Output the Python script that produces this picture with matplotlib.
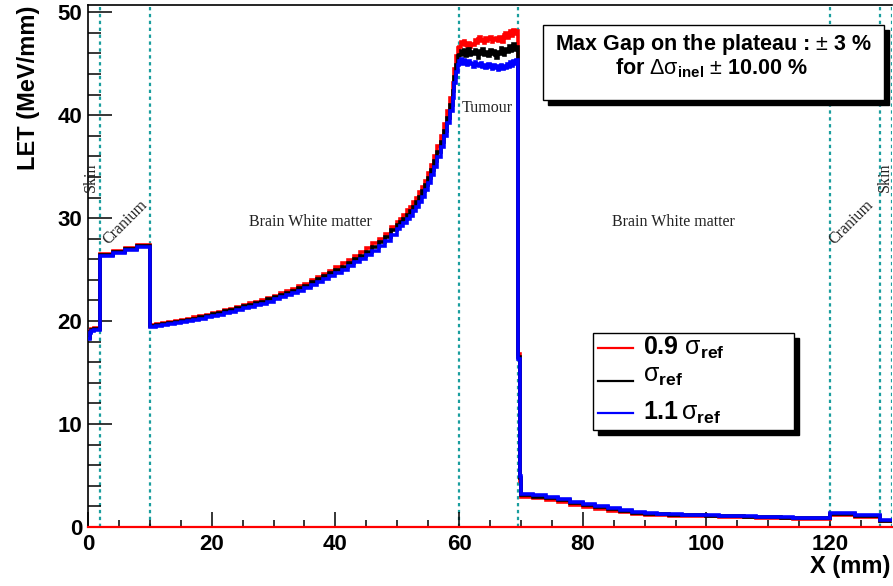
import matplotlib

matplotlib.use("Agg")
import matplotlib.pyplot as plt
import numpy as np
from matplotlib.patches import Rectangle
from matplotlib.lines import Line2D

plt.rcParams["font.family"] = ["Liberation Sans", "DejaVu Sans"]
plt.rcParams["mathtext.fontset"] = "custom"
plt.rcParams["mathtext.rm"] = "Liberation Sans"
plt.rcParams["mathtext.bf"] = "Liberation Sans:bold"
plt.rcParams["mathtext.it"] = "Liberation Sans:italic"
plt.rcParams["mathtext.sf"] = "Liberation Sans"

# --- bin edges (mm) ---------------------------------------------------------
edges = np.concatenate([
    [0, 0.25, 0.5, 1.0, 2.0],            # skin
    [4, 6, 8, 10],                       # cranium
    np.arange(11, 51, 1),                # brain, 1 mm
    np.arange(50.5, 55.01, 0.5),         # brain, 0.5 mm
    np.arange(55.5, 59.01, 0.5),
    np.arange(59.25, 60.01, 0.25),       # brain, 0.25 mm
    np.arange(60.25, 69.51, 0.25),       # tumour
    [69.6, 69.8, 70.0],                  # fall-off
    np.arange(72, 121, 2),               # brain, distal
    [124, 128, 130],                     # cranium + skin
])

# --- LET values per bin (MeV/mm) ---------------------------------------------
let_09 = [  # 0.9 sigma_ref (red)
    18.5, 19.0, 19.2, 19.3,
    26.55, 26.85, 27.1, 27.35,
    19.6, 19.7, 19.8, 19.9, 20.0, 20.1, 20.25, 20.35, 20.5, 20.6,
    20.75, 20.9, 21.05, 21.2, 21.4, 21.6, 21.75, 21.9, 22.05, 22.25,
    22.45, 22.7, 22.95, 23.15, 23.4, 23.65, 23.95, 24.3, 24.6, 24.9,
    25.3, 25.6, 25.95, 26.3, 26.7, 27.1, 27.55, 28.0, 28.5, 29.15,
    29.65, 29.95, 30.35, 30.75, 31.1, 31.55, 32.0, 32.5, 33.05, 33.65,
    34.4, 35.2, 36.0, 37.0, 38.0, 39.1, 40.4, 41.7,
    43.1, 44.5, 45.7, 46.5,
    46.6, 47.1, 46.9, 47.2, 46.8, 46.7, 47.0, 46.6, 46.9, 46.8, 47.3, 47.0, 47.4, 47.6, 47.2, 47.3,
    47.0, 47.5, 47.2, 47.4, 47.6, 47.1, 47.4, 47.3, 47.5, 47.2, 47.6, 47.4, 47.1, 47.8, 48.0, 47.5,
    47.9, 48.2, 47.7, 48.3, 47.9, 48.2,
    37.0, 16.8, 4.5,
    2.95, 2.8, 2.62, 2.42, 2.15, 1.95, 1.75, 1.6, 1.45, 1.3, 1.2, 1.15, 1.1, 1.06, 1.05, 1.02,
    0.98, 0.97, 0.93, 0.9, 0.88, 0.84, 0.82, 0.8, 0.78,
    1.2, 1.0, 0.55,
]
let_10 = [  # sigma_ref (black)
    18.4, 18.9, 19.1, 19.2,
    26.45, 26.75, 27.0, 27.25,
    19.5, 19.6, 19.7, 19.8, 19.9, 20.0, 20.15, 20.25, 20.4, 20.5,
    20.65, 20.8, 20.95, 21.1, 21.25, 21.45, 21.6, 21.75, 21.9, 22.1,
    22.3, 22.5, 22.75, 22.95, 23.2, 23.45, 23.75, 24.05, 24.35, 24.65,
    25.0, 25.3, 25.65, 26.0, 26.35, 26.75, 27.2, 27.65, 28.15, 28.8,
    29.3, 29.6, 29.95, 30.35, 30.7, 31.1, 31.55, 32.05, 32.6, 33.2,
    33.9, 34.7, 35.5, 36.4, 37.4, 38.5, 39.7, 41.0,
    42.3, 43.7, 44.9, 45.7,
    45.8, 46.2, 45.9, 46.3, 45.7, 46.0, 46.4, 45.8, 46.1, 45.9, 46.3, 46.0, 45.6, 46.2, 45.9, 46.4,
    45.8, 46.1, 46.0, 45.7, 46.3, 45.9, 46.2, 45.8, 45.6, 46.1, 45.9, 46.5, 46.0, 45.8, 46.4, 46.1,
    46.7, 46.2, 46.5, 46.9, 46.3, 46.6,
    36.6, 16.5, 4.8,
    3.1, 2.95, 2.8, 2.6, 2.3, 2.1, 1.9, 1.72, 1.55, 1.4, 1.28, 1.22, 1.18, 1.13, 1.12, 1.08,
    1.04, 1.03, 0.99, 0.95, 0.94, 0.9, 0.87, 0.85, 0.83,
    1.28, 1.08, 0.62,
]
let_11 = [  # 1.1 sigma_ref (blue)
    18.3, 18.8, 19.0, 19.1,
    26.35, 26.65, 26.9, 27.15,
    19.4, 19.5, 19.6, 19.7, 19.8, 19.9, 20.0, 20.1, 20.25, 20.35,
    20.5, 20.6, 20.75, 20.9, 21.05, 21.25, 21.4, 21.55, 21.7, 21.9,
    22.1, 22.3, 22.5, 22.75, 22.95, 23.2, 23.5, 23.8, 24.1, 24.4,
    24.7, 25.0, 25.35, 25.7, 26.05, 26.45, 26.85, 27.3, 27.8, 28.4,
    28.9, 29.2, 29.55, 29.9, 30.25, 30.65, 31.1, 31.6, 32.1, 32.7,
    33.4, 34.2, 35.0, 35.9, 36.9, 38.0, 39.2, 40.4,
    41.7, 43.1, 44.2, 44.9,
    45.3, 45.5, 45.0, 45.4, 45.2, 44.9, 45.3, 45.1, 45.0, 44.7, 45.2, 44.9, 45.0, 44.8, 45.1, 44.7,
    44.9, 44.6, 44.8, 45.0, 44.7, 44.5, 44.9, 44.6, 44.8, 44.4, 44.7, 44.9, 44.5, 44.8, 44.6, 45.0,
    44.7, 45.2, 44.8, 45.3, 45.0, 45.4,
    36.2, 16.3, 5.0,
    3.25, 3.1, 2.95, 2.75, 2.45, 2.25, 2.05, 1.85, 1.65, 1.5, 1.35, 1.3, 1.25, 1.2, 1.2, 1.15,
    1.1, 1.1, 1.05, 1.0, 1.0, 0.95, 0.92, 0.9, 0.88,
    1.38, 1.15, 0.68,
]

boundaries = [2, 10, 60, 69.5, 120, 128, 130]
regions = [
    ("Skin", 0.45, 34.0, 90),
    ("Cranium", 6.0, 29.6, 45),
    ("Brain White matter", 35.9, 29.6, 0),
    ("Tumour", 64.6, 40.7, 0),
    ("Brain White matter", 94.7, 29.6, 0),
    ("Cranium", 123.5, 29.6, 45),
    ("Skin", 128.9, 34.0, 90),
]

W, H = 893, 586
fig = plt.figure(figsize=(W / 100, H / 100), dpi=100)
ax = fig.add_axes([88 / W, (H - 527) / H, (892 - 88) / W, (527 - 5) / H])

teal = "#1a9e9e"
for b in boundaries:
    ax.axvline(b, color=teal, lw=1.6, ls=(0, (1.5, 1.6)), zorder=1)

ax.stairs(let_09, edges, color="red", lw=2.6, baseline=None, zorder=3)
ax.stairs(let_10, edges, color="black", lw=2.6, baseline=None, zorder=4)
ax.stairs(let_11, edges, color="blue", lw=2.6, baseline=None, zorder=5)
ax.axhline(0, color="red", lw=1.6, zorder=6, clip_on=False)

for name, x, y, rot in regions:
    ax.text(x, y, name, rotation=rot, ha="center", va="center",
            family="Liberation Serif", fontsize=11.5, color="#222222")

ax.set_xlim(0, 130)
ax.set_ylim(0, 50.7)
ax.set_xticks([0, 20, 40, 60, 80, 100, 120])
ax.set_xticks(np.arange(5, 130, 5), minor=True)
ax.set_yticks([0, 10, 20, 30, 40, 50])
ax.set_yticks(np.arange(2, 50, 2), minor=True)
ax.tick_params(axis="both", which="both", direction="in", width=1.1,
               labelsize=16, top=False, right=False)
for lab in ax.get_xticklabels() + ax.get_yticklabels():
    lab.set_fontweight("bold")
ax.tick_params(axis="y", which="major", length=17, pad=4)
ax.tick_params(axis="y", which="minor", length=9)
ax.tick_params(axis="x", which="major", length=11, pad=5)
ax.tick_params(axis="x", which="minor", length=5)
ax.spines["right"].set_visible(False)
for s in ("left", "bottom", "top"):
    ax.spines[s].set_linewidth(1.2)

ax.set_ylabel("LET (MeV/mm)", fontsize=17, fontweight="bold", va="center")
ax.yaxis.set_label_coords(-0.0746, 0.842)
ax.text(0.9975, (527 - 567) / 522, "X (mm)", transform=ax.transAxes,
        ha="right", va="center", fontsize=17, fontweight="bold")


def px(x, y):
    return x / W, 1 - y / H


def shadow_box(x0, y0, x1, y1, off=5):
    sx, sy = px(x0 + off, y1 + off)
    fig.patches.append(Rectangle((sx, sy), (x1 - x0) / W, (y1 - y0) / H, transform=fig.transFigure,
                                 facecolor="black", edgecolor="black", zorder=10))
    bx, by = px(x0, y1)
    fig.patches.append(Rectangle((bx, by), (x1 - x0) / W, (y1 - y0) / H, transform=fig.transFigure,
                                 facecolor="white", edgecolor="black", lw=1.0, zorder=11))


# info box
shadow_box(543, 25, 884, 100)
fig.text(*px(713, 50), r"Max Gap on the plateau : $\pm$ 3 %", ha="center", va="baseline",
         fontsize=15.5, fontweight="bold", zorder=12)
fig.text(*px(712, 74), r"for $\mathrm{Δσ}_{\mathbf{inel}}$ $\pm$ 10.00 %", ha="center",
         va="baseline", fontsize=15.5, fontweight="bold", zorder=12)

# legend
shadow_box(593, 333, 794, 430)
leg_rows = [
    ("red", r"$\mathbf{0.9}\ \mathrm{σ}_{\mathbf{ref}}$", 348, 355),
    ("black", r"$\mathrm{σ}_{\mathbf{ref}}$", 381, 382),
    ("blue", r"$\mathbf{1.1}\,\mathrm{σ}_{\mathbf{ref}}$", 413, 420),
]
for col, lab, ly, ty in leg_rows:
    (x0, yy), (x1, _) = px(598, ly), px(633, ly)
    fig.lines.append(Line2D([x0, x1], [yy, yy], transform=fig.transFigure,
                            color=col, lw=1.6, zorder=12))
    fig.text(*px(643, ty), lab, ha="left", va="baseline", fontsize=18, zorder=12)

fig.savefig("out.png", dpi=100)
